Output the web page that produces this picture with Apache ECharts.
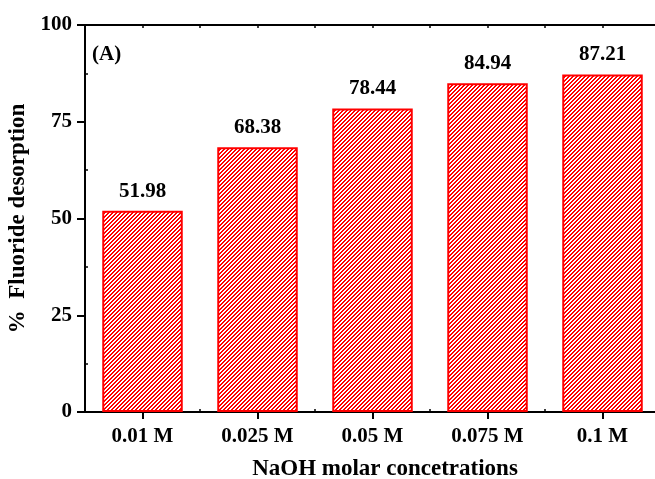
<!DOCTYPE html>
<html>
<head>
<meta charset="utf-8">
<script src="https://cdn.jsdelivr.net/npm/echarts@6/dist/echarts.min.js"></script>
<style>
  html, body { margin: 0; padding: 0; background: #fff; }
  #chart { width: 655px; height: 479px; }
</style>
</head>
<body>
<div id="chart"></div>
<script>
// NaOH concentrations and the fluoride desorbed at each one (%)
const categories = ['0.01 M', '0.025 M', '0.05 M', '0.075 M', '0.1 M'];
const desorption = [51.98, 68.38, 78.44, 84.94, 87.21];
const yTicks = { min: 0, max: 100, step: 25 };

const FONT = '"Liberation Serif", "Times New Roman", serif';
const RED = '#ff0000';

// Diagonal red/white hatch used to fill the bars
function hatchTile() {
  const size = 4;
  const c = document.createElement('canvas');
  c.width = size; c.height = size;
  const ctx = c.getContext('2d');
  const img = ctx.createImageData(size, size);
  for (let y = 0; y < size; y++) {
    for (let x = 0; x < size; x++) {
      const i = (y * size + x) * 4;
      const on = ((x + y) % size) < 2;
      img.data[i] = 255;
      img.data[i + 1] = on ? 0 : 255;
      img.data[i + 2] = on ? 0 : 255;
      img.data[i + 3] = 255;
    }
  }
  ctx.putImageData(img, 0, 0);
  return c;
}

const chart = echarts.init(document.getElementById('chart'), null, { renderer: 'canvas' });

const axisLine = { show: true, onZero: false, lineStyle: { color: '#000', width: 2 } };

chart.setOption({
  animation: false,
  backgroundColor: '#fff',
  grid: { left: 85, top: 25, width: 575, height: 387, containLabel: false, outerBoundsMode: 'none' },
  xAxis: [
    {
      type: 'category',
      data: categories,
      position: 'bottom',
      axisLine: axisLine,
      axisTick: { show: true, alignWithLabel: true, length: 7, lineStyle: { color: '#000', width: 2 } },
      axisLabel: { color: '#000', fontFamily: FONT, fontWeight: 'bold', fontSize: 21, margin: 14 },
      name: 'NaOH molar concetrations',
      nameLocation: 'middle',
      nameGap: 46,
      nameTextStyle: { color: '#000', fontFamily: FONT, fontWeight: 'bold', fontSize: 23, padding: [0, 0, 0, 25] },
      splitLine: { show: false }
    },
    {
      // small inward marks between the categories
      type: 'category',
      data: categories,
      position: 'bottom',
      axisLine: { show: false },
      axisTick: { show: true, inside: true, length: 3, lineStyle: { color: '#000', width: 1.5 } },
      axisLabel: { show: false },
      splitLine: { show: false }
    },
    {
      // frame line along the top
      type: 'value',
      position: 'top',
      min: -0.5,
      max: 4.5,
      interval: 0.5,
      axisLine: axisLine,
      axisTick: { show: true, inside: true, length: 3, lineStyle: { color: '#000', width: 1.5 } },
      axisLabel: { show: false },
      splitLine: { show: false }
    }
  ],
  yAxis: {
    type: 'value',
    min: yTicks.min,
    max: yTicks.max,
    interval: yTicks.step,
    axisLine: axisLine,
    axisTick: { show: true, length: 8, lineStyle: { color: '#000', width: 2 } },
    minorTick: { show: true, splitNumber: 2, length: -3, lineStyle: { color: '#000', width: 1.5 } },
    axisLabel: { color: '#000', fontFamily: FONT, fontWeight: 'bold', fontSize: 21, margin: 13 },
    splitLine: { show: false },
    name: '%  Fluoride desorption',
    nameLocation: 'middle',
    nameGap: 47,
    nameTextStyle: { color: '#000', fontFamily: FONT, fontWeight: 'bold', fontSize: 23 }
  },
  series: [{
    type: 'bar',
    xAxisIndex: 0,
    data: desorption,
    barWidth: '70%',
    itemStyle: {
      color: { image: hatchTile(), repeat: 'repeat' },
      borderColor: RED,
      borderWidth: 2
    },
    label: {
      show: true,
      position: 'top',
      distance: 9,
      color: '#000',
      fontFamily: FONT,
      fontWeight: 'bold',
      fontSize: 21,
      formatter: p => p.value.toFixed(2)
    }
  }],
  graphic: [{
    type: 'text',
    left: 92,
    top: 44,
    style: { text: '(A)', fill: '#000', font: 'bold 21px ' + FONT }
  }]
});
</script>
</body>
</html>
